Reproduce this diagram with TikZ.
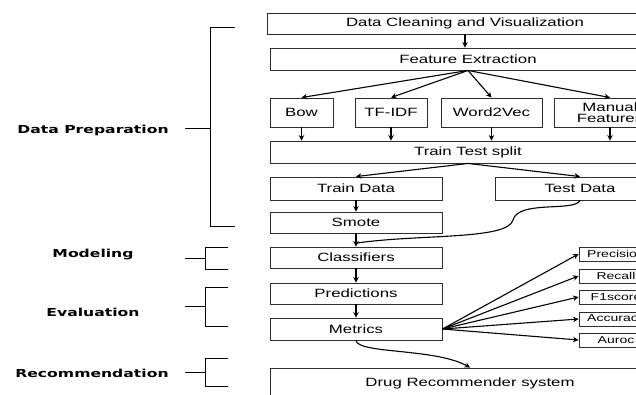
\documentclass[tikz,border=0pt]{standalone}
\usepackage{fontspec}
\setmainfont{Liberation Sans}
\newfontfamily\boxfont[FakeStretch=1.4]{Liberation Sans}
\newfontfamily\stagefont[FakeStretch=1.42]{DejaVu Sans}
\usetikzlibrary{arrows.meta,positioning}
\definecolor{boxline}{RGB}{45,45,45}

\begin{document}
\begin{tikzpicture}[x=1pt, y=-1pt, thick,
  every node/.style={font=\boxfont\fontsize{12}{13}\selectfont},
  flowbox/.style={draw=boxline, line width=0.9pt, inner sep=0pt, align=center},
  metricbox/.style={flowbox, minimum width=74, minimum height=14, font=\boxfont\fontsize{10}{11}\selectfont},
  link/.style={-{Stealth[length=5.5pt,width=5.5pt]}, line width=1.1pt, black},
  bracket/.style={line width=0.9pt, black},
  stage/.style={font=\stagefont\bfseries\fontsize{11}{12}\selectfont}]
  \useasboundingbox (0,0) rectangle (636,394);
  \clip (0,0) rectangle (636,394);
  % preparation column
  \node[flowbox, minimum width=396, minimum height=21] (clean) at (465,23.5) {Data Cleaning and Visualization};
  \node[flowbox, minimum width=396, minimum height=22] (feat) at (468,59) {Feature Extraction};
  \node[flowbox, minimum width=63, minimum height=29] (bow) at (301.5,112.5) {Bow};
  \node[flowbox, minimum width=72, minimum height=29] (tfidf) at (391,112.5) {TF-IDF};
  \node[flowbox, minimum width=101, minimum height=29] (wvec) at (491.5,112.5) {Word2Vec};
  \node[flowbox, minimum width=112, minimum height=29, font=\boxfont\fontsize{12}{10.5}\selectfont] (manual) at (610,112.5) {Manual\\Features};
  \node[flowbox, minimum width=396, minimum height=22] (split) at (468,152) {Train Test split};
  \node[flowbox, minimum width=172, minimum height=23] (train) at (356,188.5) {Train Data};
  \node[flowbox, minimum width=170, minimum height=23] (test) at (580,188.5) {Test Data};
  \node[flowbox, minimum width=172, minimum height=21] (smote) at (356,222.5) {Smote};
  % modeling and evaluation
  \node[flowbox, minimum width=172, minimum height=21] (clf) at (356,257.5) {Classifiers};
  \node[flowbox, minimum width=172, minimum height=21] (pred) at (356,293.5) {Predictions};
  \node[flowbox, minimum width=172, minimum height=22] (metr) at (356,329) {Metrics};
  \node[metricbox] (prec) at (616,254) {Precision};
  \node[metricbox] (rec) at (616,276) {Recall};
  \node[metricbox] (fone) at (616,297) {F1score};
  \node[metricbox] (acc) at (616,319) {Accuracy};
  \node[metricbox] (auc) at (616,340) {Auroc};
  \node[flowbox, minimum width=400, minimum height=30] (drug) at (470,383) {Drug Recommender system};
  % arrows
  \draw[link] (clean.south) -- (clean.south |- feat.north);
  \draw[link] (feat.south) -- (bow.north);
  \draw[link] (feat.south) -- (tfidf.north);
  \draw[link] (feat.south) -- (wvec.north);
  \draw[link] (feat.south) -- (manual.north);
  \draw[link] (bow.south) -- (bow.south |- split.north);
  \draw[link] (tfidf.south) -- (tfidf.south |- split.north);
  \draw[link] (wvec.south) -- (wvec.south |- split.north);
  \draw[link] (manual.south) -- (manual.south |- split.north);
  \draw[link] (split.south) -- (train.north);
  \draw[link] (split.south) -- (test.north);
  \draw[link] (train) -- (smote);
  \draw[link] (smote) -- (clf);
  \coordinate (join) at (357,243);
  \draw[line width=1.1pt] (test.south) .. controls (575,212) and (518,200) .. (513,220) .. controls (508,240) and (420,234) .. (join);
  \draw[link] (clf) -- (pred);
  \draw[link] (pred) -- (metr);
  \draw[link] (metr.east) -- (prec.west);
  \draw[link] (metr.east) -- (rec.west);
  \draw[link] (metr.east) -- (fone.west);
  \draw[link] (metr.east) -- (acc.west);
  \draw[link] (metr.east) -- (auc.west);
  \draw[link] (metr.south) .. controls (358,354) and (435,348) .. (drug.north);
  % stage brackets
  \draw[bracket] (235,27) -- (210,27) -- (210,226) -- (235,226);
  \draw[bracket] (185,128) -- (210,128);
  \node[stage] (prep) at (93,130) {Data Preparation};
  \draw[bracket] (228,247) -- (205,247) -- (205,269) -- (228,269);
  \draw[bracket] (185,258) -- (205,258);
  \node[stage] (model) at (93,255) {Modeling};
  \draw[bracket] (228,287) -- (205,287) -- (205,326) -- (228,326);
  \draw[bracket] (185,306) -- (205,306);
  \node[stage] (evalu) at (93,312) {Evaluation};
  \draw[bracket] (228,358) -- (205,358) -- (205,386) -- (228,386);
  \draw[bracket] (185,372) -- (205,372);
  \node[stage] (recom) at (92,373) {Recommendation};
\end{tikzpicture}
\end{document}
